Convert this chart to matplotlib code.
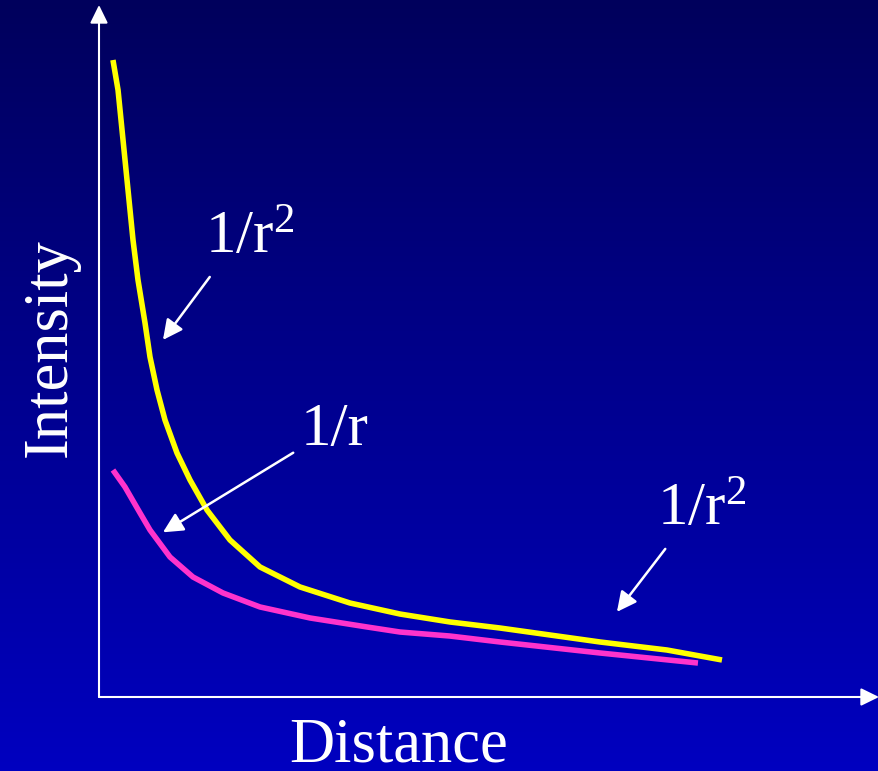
import numpy as np
import matplotlib
matplotlib.use('Agg')
import matplotlib.pyplot as plt

plt.rcParams['font.family'] = ['Liberation Serif', 'DejaVu Serif']
plt.rcParams['mathtext.default'] = 'regular'

# curves (distance, intensity in arbitrary units)
dist_sq = [0.179, 0.244, 0.308, 0.372, 0.436, 0.500, 0.590, 0.654, 0.744, 0.846, 1.000, 1.167,
           1.385, 1.679, 2.064, 2.577, 3.218, 3.859, 4.500, 5.141, 6.423, 7.282, 7.987]
int_sq = [9.205, 8.772, 8.049, 7.327, 6.604, 6.026, 5.405, 4.913, 4.436, 4.003, 3.526, 3.136,
          2.702, 2.269, 1.879, 1.590, 1.358, 1.199, 1.084, 0.997, 0.795, 0.679, 0.535]

dist_r = [0.179, 0.333, 0.526, 0.654, 0.910, 1.205, 1.590, 2.064, 2.705, 3.436, 3.859, 4.500,
          5.141, 6.423, 7.679]
int_r = [3.280, 3.035, 2.659, 2.413, 2.023, 1.734, 1.503, 1.301, 1.142, 1.012, 0.939, 0.881,
         0.795, 0.636, 0.491]

# label text, text position, arrow tail, arrow tip
labels = ['1/r$^2$', '1/r', '1/r$^2$']
label_pos = [(1.36, 6.42), (2.58, 3.64), (7.15, 2.49)]
arrow_tail = [(1.42, 6.07), (2.49, 3.53), (7.26, 2.14)]
arrow_tip = [(0.82, 5.16), (0.82, 2.38), (6.64, 1.23)]

W, H = 879, 771
fig = plt.figure(figsize=(W / 100, H / 100), dpi=100)

# background gradient
bg = fig.add_axes([0, 0, 1, 1])
grad = np.linspace(0, 1, 256).reshape(-1, 1)
top = np.array([0, 0, 92]) / 255
bot = np.array([0, 0, 192]) / 255
img = top + grad[:, :, None] * (bot - top)
bg.imshow(img, aspect='auto', extent=[0, 1, 0, 1], origin='upper')
bg.set_axis_off()

ax = fig.add_axes([99 / W, 74 / H, 780 / W, 692 / H])
ax.patch.set_alpha(0)
ax.set_xlim(0, 10)
ax.set_ylim(0, 10)
for s in ax.spines.values():
    s.set_visible(False)
ax.set_xticks([])
ax.set_yticks([])

axstyle = '-|>,head_length=0.55,head_width=0.27'
ax.annotate('', xy=(0, 1), xytext=(0, 0), xycoords='axes fraction',
            arrowprops=dict(arrowstyle=axstyle, mutation_scale=20, color='white',
                            lw=1.5, shrinkA=0, shrinkB=0), annotation_clip=False)
ax.annotate('', xy=(1, 0), xytext=(0, 0), xycoords='axes fraction',
            arrowprops=dict(arrowstyle=axstyle, mutation_scale=20, color='white',
                            lw=1.5, shrinkA=0, shrinkB=0), annotation_clip=False)

ax.plot(dist_sq, int_sq, color='#FFFF00', lw=4, solid_capstyle='butt', solid_joinstyle='round')
ax.plot(dist_r, int_r, color='#FF33CC', lw=4, solid_capstyle='butt', solid_joinstyle='round')

lblstyle = '-|>,head_length=0.6,head_width=0.3'
for lab, p, t0, t1 in zip(labels, label_pos, arrow_tail, arrow_tip):
    ax.text(p[0], p[1], lab, color='white', fontsize=44, ha='left', va='baseline')
    ax.annotate('', xy=t1, xytext=t0,
                arrowprops=dict(arrowstyle=lblstyle, mutation_scale=20, color='white',
                                lw=1.8, shrinkA=0, shrinkB=0))

fig.text(399 / W, 1 - 762 / H, 'Distance', color='white', fontsize=45,
         ha='center', va='baseline')
fig.text(66 / W, 1 - 348 / H, 'Intensity', color='white', fontsize=45,
         ha='center', va='baseline', rotation=90, rotation_mode='anchor')

fig.savefig('out.png', dpi=100)
